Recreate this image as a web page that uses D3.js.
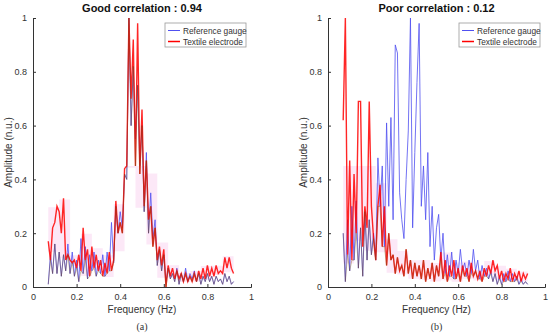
<!DOCTYPE html>
<html><head><meta charset="utf-8">
<script src="https://cdn.jsdelivr.net/npm/d3@7"></script>
<style>body{margin:0;background:#fff}svg{display:block}</style>
</head><body><svg id="c" width="550" height="335"></svg>
<script>
// frequencies 0.07 .. 0.92 step 0.01
const freq = [0.07,0.08,0.09,0.10,0.11,0.12,0.13,0.14,0.15,0.16,0.17,0.18,0.19,0.20,0.21,0.22,0.23,0.24,0.25,0.26,0.27,0.28,0.29,0.30,0.31,0.32,0.33,0.34,0.35,0.36,0.37,0.38,0.39,0.40,0.41,0.42,0.43,0.44,0.45,0.46,0.47,0.48,0.49,0.50,0.51,0.52,0.53,0.54,0.55,0.56,0.57,0.58,0.59,0.60,0.61,0.62,0.63,0.64,0.65,0.66,0.67,0.68,0.69,0.70,0.71,0.72,0.73,0.74,0.75,0.76,0.77,0.78,0.79,0.80,0.81,0.82,0.83,0.84,0.85,0.86,0.87,0.88,0.89,0.90,0.91,0.92];

const goodReference = [0.01,0.12,0.05,0.16,0.05,0.13,0.04,0.12,0.06,0.16,0.05,0.13,0.04,0.10,0.02,0.18,0.05,0.15,0.03,0.12,0.06,0.13,0.04,0.10,0.05,0.12,0.04,0.13,0.06,0.24,0.09,0.30,0.20,0.28,0.22,0.42,0.40,1.00,0.60,0.82,0.55,0.75,0.45,0.60,0.28,0.50,0.20,0.35,0.18,0.25,0.08,0.14,0.06,0.12,0.02,0.07,0.03,0.05,0.02,0.07,0.01,0.05,0.02,0.07,0.02,0.05,0.03,0.06,0.02,0.05,0.01,0.04,0.02,0.05,0.02,0.04,0.01,0.04,0.02,0.03,0.01,0.05,0.02,0.04,0.01,0.02];
const goodTextile = [0.17,0.10,0.22,0.24,0.30,0.28,0.20,0.33,0.10,0.12,0.10,0.09,0.10,0.07,0.12,0.06,0.22,0.10,0.14,0.04,0.15,0.07,0.12,0.06,0.10,0.04,0.09,0.05,0.13,0.06,0.10,0.32,0.20,0.24,0.20,0.44,0.45,1.00,0.70,0.92,0.45,0.98,0.42,0.66,0.30,0.47,0.25,0.30,0.15,0.22,0.10,0.15,0.08,0.14,0.00,0.08,0.04,0.07,0.03,0.06,0.03,0.05,0.02,0.05,0.02,0.04,0.02,0.05,0.02,0.06,0.03,0.07,0.03,0.08,0.04,0.07,0.04,0.08,0.05,0.06,0.05,0.11,0.07,0.11,0.07,0.05];

const poorReference = [0.20,0.02,0.25,0.06,0.30,0.10,0.32,0.07,0.22,0.04,0.28,0.10,0.25,0.12,0.20,0.10,0.48,0.30,0.45,0.15,0.61,0.30,0.63,0.25,0.90,0.87,0.35,0.25,0.18,0.40,0.58,1.00,0.22,0.50,0.76,0.98,0.30,0.45,0.25,0.50,0.15,0.30,0.10,0.22,0.27,0.10,0.20,0.05,0.12,0.04,0.13,0.03,0.10,0.05,0.14,0.06,0.09,0.04,0.10,0.05,0.14,0.06,0.10,0.03,0.08,0.04,0.07,0.03,0.06,0.02,0.05,0.01,0.04,0.01,0.05,0.02,0.06,0.02,0.05,0.02,0.04,0.01,0.03,0.01,0.02,0.01];
const poorTextile = [0.62,1.00,0.12,0.47,0.10,0.42,0.20,0.69,0.69,0.15,0.30,0.22,0.69,0.30,0.18,0.10,0.30,0.38,0.15,0.30,0.08,0.20,0.10,0.12,0.05,0.11,0.06,0.08,0.04,0.14,0.05,0.10,0.03,0.09,0.04,0.08,0.03,0.10,0.02,0.07,0.03,0.09,0.02,0.08,0.04,0.13,0.03,0.10,0.02,0.08,0.04,0.10,0.03,0.07,0.02,0.08,0.04,0.07,0.02,0.09,0.04,0.06,0.03,0.06,0.02,0.07,0.04,0.08,0.05,0.10,0.06,0.08,0.03,0.06,0.02,0.05,0.03,0.07,0.02,0.05,0.03,0.06,0.02,0.05,0.03,0.05];

const titles = ["Good correlation : 0.94", "Poor correlation : 0.12"];
const captions = ["(a)", "(b)"];
const seriesNames = ["Reference gauge", "Textile electrode"];
const xTicks = [0, 0.2, 0.4, 0.6, 0.8, 1];
const yTicks = [0, 0.2, 0.4, 0.6, 0.8, 1];

const panels = [
  {ref: goodReference, tex: goodTextile, left: 33, right: 251},
  {ref: poorReference, tex: poorTextile, left: 328, right: 545}
];
const plotTop = 18, plotBottom = 287;
const svg = d3.select("#c");
const font = "'Liberation Sans', Arial, sans-serif";

panels.forEach((p, i) => {
  const x = d3.scaleLinear().domain([0, 1]).range([p.left, p.right]);
  const y = d3.scaleLinear().domain([0, 1]).range([plotBottom, plotTop]);
  const g = svg.append("g");
  const cx = (p.left + p.right) / 2;

  // envelope band (block mean ± sd of textile), capped
  const block = 5;
  const band = [];
  for (let k = 0; k < freq.length; k += block) {
    const vals = p.tex.slice(k, k + block);
    const m = d3.mean(vals), s = d3.deviation(vals) || 0;
    band.push({f: freq[k], lo: Math.max(0, m - s), hi: Math.min(0.45, m + s * 1.2)});
  }
  band.push({f: freq[freq.length - 1], lo: band[band.length - 1].lo, hi: band[band.length - 1].hi});
  g.append("path").datum(band)
    .attr("fill", "#fbdcf3").attr("opacity", 0.65)
    .attr("d", d3.area().curve(d3.curveStepAfter).x(d => x(d.f)).y0(d => y(d.lo)).y1(d => y(d.hi)));

  const line = d3.line().x((d, j) => x(freq[j])).y(d => y(d));
  g.append("path").datum(p.ref).attr("fill", "none").attr("stroke", "#5050f0")
    .attr("stroke-opacity", 0.8).attr("stroke-width", 1).attr("d", line);
  g.append("path").datum(p.tex).attr("fill", "none").attr("stroke", "#ff0000")
    .attr("stroke-opacity", 0.85).attr("stroke-width", 1.4).attr("d", line);
  g.append("path").datum(p.tex.map((v, j) => Math.min(v, p.ref[j])))
    .attr("fill", "none").attr("stroke", "#7a4a10").attr("stroke-opacity", 0.4)
    .attr("stroke-width", 1).attr("d", line);

  const ax = g.append("g").attr("transform", `translate(0,${plotBottom})`)
    .call(d3.axisBottom(x).tickValues(xTicks).tickSize(-3).tickPadding(7).tickFormat(d3.format("~g")));
  const ay = g.append("g").attr("transform", `translate(${p.left},0)`)
    .call(d3.axisLeft(y).tickValues(yTicks).tickSize(-3).tickPadding(6).tickFormat(d3.format("~g")));
  [ax, ay].forEach(a => {
    a.select(".domain").attr("stroke", "#333");
    a.selectAll(".tick line").attr("stroke", "#333");
    a.selectAll(".tick text").attr("fill", "#333").style("font-family", font).style("font-size", "9px");
  });

  g.append("text").attr("x", cx).attr("y", 12).attr("text-anchor", "middle")
    .style("font-family", font).style("font-size", "11px").style("font-weight", "bold")
    .attr("fill", "#111").text(titles[i]);
  g.append("text").attr("x", cx).attr("y", 313).attr("text-anchor", "middle")
    .style("font-family", font).style("font-size", "10px").attr("fill", "#333").text("Frequency (Hz)");
  g.append("text").attr("transform", `translate(${p.left - 21},${(plotTop + plotBottom) / 2}) rotate(-90)`)
    .attr("text-anchor", "middle").style("font-family", font).style("font-size", "10px")
    .attr("fill", "#333").text("Amplitude (n.u.)");
  g.append("text").attr("x", cx).attr("y", 330).attr("text-anchor", "middle")
    .style("font-family", "'Liberation Serif', serif").style("font-size", "10px").attr("fill", "#333").text(captions[i]);

  const lx = p.right - 86, ly = 23;
  const lg = g.append("g").attr("transform", `translate(${lx},${ly})`);
  lg.append("rect").attr("width", 81).attr("height", 24).attr("fill", "#fff").attr("stroke", "#999").attr("stroke-width", 0.8);
  const cols = ["#5050f0", "#ff0000"];
  seriesNames.forEach((n, k) => {
    const yy = 7.5 + k * 11;
    lg.append("line").attr("x1", 3).attr("x2", 15).attr("y1", yy).attr("y2", yy)
      .attr("stroke", cols[k]).attr("stroke-width", k ? 1.5 : 1);
    lg.append("text").attr("x", 18).attr("y", yy + 3).style("font-family", font)
      .style("font-size", "8.3px").attr("fill", "#333").text(n);
  });
});
</script></body></html>
